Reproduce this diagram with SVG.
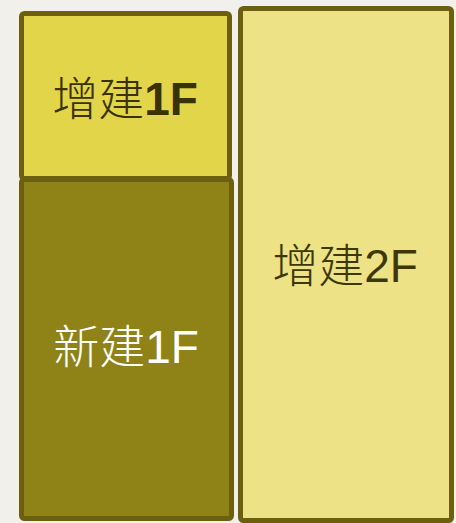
<svg xmlns="http://www.w3.org/2000/svg" width="456" height="523" viewBox="0 0 456 523">
<style>
.box{stroke:#6c6010;stroke-width:5;stroke-linejoin:round}
.lbl{font-family:"Liberation Sans","Noto Sans CJK TC","Noto Sans CJK SC",sans-serif;font-size:46px;text-anchor:middle}
.cjk{font-weight:300}
</style>
<rect width="456" height="523" fill="#f1f0eb"/>
<g id="node-new1f">
<rect class="box" x="21.5" y="179.5" width="210" height="339" rx="3" fill="#8f8216"/>
<text class="lbl" x="126" y="363" fill="#ffffff"><tspan class="cjk">新建</tspan>1F</text>
</g>
<g id="node-add1f">
<rect class="box" x="21.5" y="13.5" width="208" height="165" rx="3" fill="#e3d54a"/>
<text class="lbl" x="125" y="115" fill="#3a3300"><tspan class="cjk" font-weight="400">增建</tspan><tspan font-weight="bold">1F</tspan></text>
</g>
<g id="node-add2f">
<rect class="box" x="240.5" y="8.5" width="211" height="512" rx="3" fill="#ede285"/>
<text class="lbl" x="345" y="282" fill="#3c3808"><tspan class="cjk">增建</tspan>2F</text>
</g>
<g id="connectors"></g>
</svg>
